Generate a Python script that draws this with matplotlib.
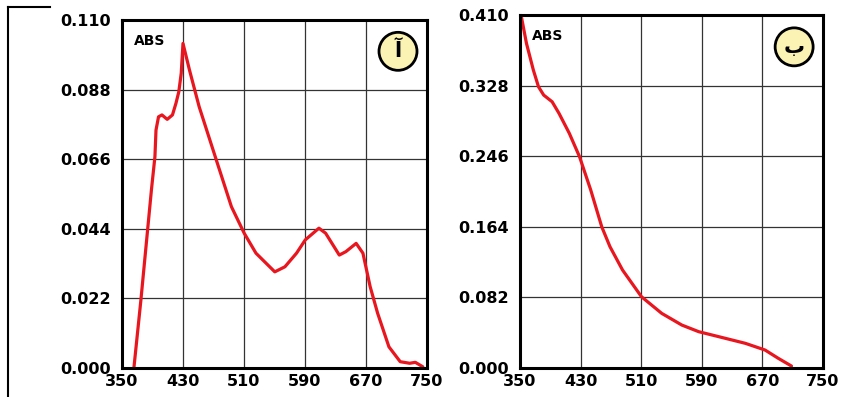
import matplotlib
matplotlib.use("Agg")
import matplotlib.pyplot as plt
from matplotlib.lines import Line2D
from matplotlib.patches import Circle

# panel a (آ)
wl_a = [365.6, 374.8, 388.6, 393.2, 394.6, 397.9, 402.4, 409.3, 416.2, 420.8,
        424.5, 427.7, 430, 438.5, 451.2, 472.3, 493.5, 510.3, 525.7, 550.4,
        563.7, 578.9, 590.4, 608.3, 617.1, 635, 643.7, 657.1, 666, 675.5,
        685.3, 700.1, 714.9, 727.3, 734.7, 744.5]
abs_a = [0.0, 0.0215, 0.0563, 0.0668, 0.0752, 0.0794, 0.0800, 0.0786, 0.0800,
         0.0837, 0.0873, 0.0932, 0.1026, 0.0942, 0.0826, 0.0668, 0.0510, 0.0426,
         0.0363, 0.0304, 0.0320, 0.0363, 0.0405, 0.0442, 0.0426, 0.0357, 0.0368,
         0.0394, 0.0363, 0.0257, 0.0173, 0.0067, 0.0020, 0.0015, 0.0018, 0.0004]
yticks_a = [0.000, 0.022, 0.044, 0.066, 0.088, 0.110]

# panel b (ب)
wl_b = [351.8, 358.5, 367.6, 374.4, 381.2, 392.4, 401.5, 415.1, 428.6, 443.4,
        457.9, 468.8, 485.4, 510.4, 537.1, 563.7, 586, 612.5, 647.5, 673.6,
        691, 708.5]
abs_b = [0.408, 0.3771, 0.3461, 0.3267, 0.3171, 0.3093, 0.2958, 0.2726, 0.2454,
         0.2067, 0.1641, 0.1409, 0.1138, 0.0828, 0.0635, 0.0499, 0.0422, 0.0364,
         0.0287, 0.0209, 0.0113, 0.0023]
yticks_b = [0.000, 0.082, 0.164, 0.246, 0.328, 0.410]

xticks = [350, 430, 510, 590, 670, 750]
letters = ["آ", "ب"]

fig = plt.figure(figsize=(8.46, 3.97), dpi=100)
ax1 = fig.add_axes([0.1442, 0.073, 0.3605, 0.8766])
ax2 = fig.add_axes([0.6147, 0.073, 0.358, 0.889])

panels = [(ax1, wl_a, abs_a, yticks_a), (ax2, wl_b, abs_b, yticks_b)]
for i, (ax, x, y, yt) in enumerate(panels):
    ax.plot(x, y, color="#e8161e", lw=2.3, solid_capstyle="round",
            solid_joinstyle="round")
    ax.set_xlim(350, 750)
    ax.set_ylim(yt[0], yt[-1])
    ax.set_xticks(xticks)
    ax.set_yticks(yt)
    ax.set_yticklabels(["%.3f" % v for v in yt])
    ax.grid(True, color="#333333", lw=0.9)
    ax.tick_params(length=0, labelsize=11.5)
    ax.tick_params(axis="x", pad=4)
    ax.tick_params(axis="y", pad=8)
    for lab in ax.get_xticklabels() + ax.get_yticklabels():
        lab.set_fontweight("bold")
    for s in ax.spines.values():
        s.set_linewidth(2.2)
        s.set_color("black")
    ax.text(0.04, 0.96, "ABS", transform=ax.transAxes, fontsize=10,
            fontweight="bold", va="top", ha="left")
    # round badge with the panel letter
    bx, by = ax.transAxes.transform((0.905, 0.91))
    badge = Circle((bx, by), 19, transform=None, facecolor="#fbf3b4",
                   edgecolor="black", lw=2.0, zorder=5, clip_on=False)
    ax.add_artist(badge)
    ax.text(bx, by, letters[i], transform=None, fontsize=15, fontweight="bold",
            ha="center", va="center", zorder=6, family=["DejaVu Sans"])

# corner bracket at left edge
fig.add_artist(Line2D([8 / 846, 8 / 846], [0, 1 - 7 / 397], color="black", lw=1.5))
fig.add_artist(Line2D([8 / 846, 50 / 846], [1 - 7 / 397, 1 - 7 / 397], color="black", lw=1.5))

fig.savefig("out.png", dpi=100, facecolor="white")
